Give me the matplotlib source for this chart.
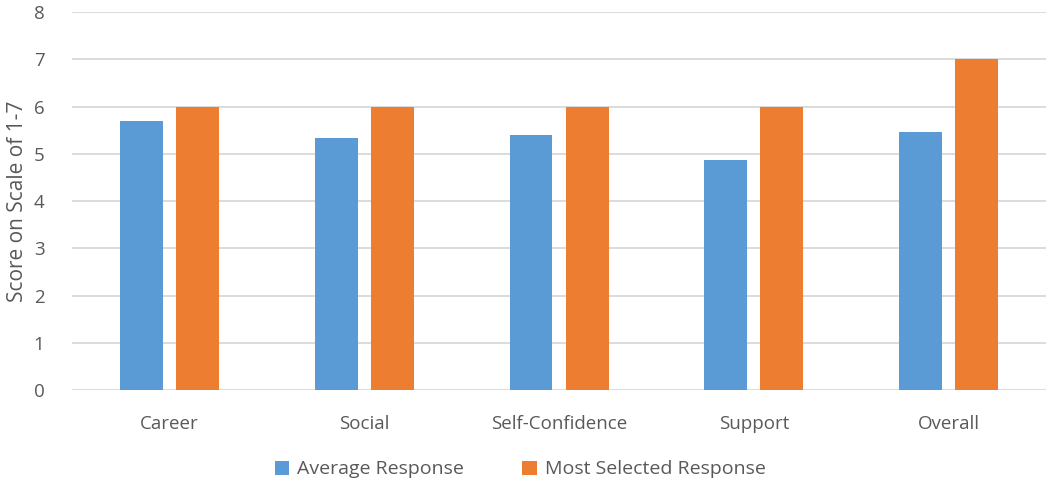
import numpy as np
import matplotlib.pyplot as plt

categories = ['Career', 'Social', 'Self-Confidence', 'Support', 'Overall']
average_response = [5.70, 5.33, 5.41, 4.88, 5.47]
most_selected = [6, 6, 6, 6, 7]

plt.rcParams['font.family'] = ['Open Sans', 'DejaVu Sans']
txt = '#595959'

fig = plt.figure(figsize=(10.46, 4.9), dpi=100)
ax = fig.add_axes([0.069, 0.204, 0.931, 0.771])

x = np.arange(len(categories))
w = 0.22
off = 0.144
ax.bar(x - off, average_response, w, color='#5B9BD5', label='Average Response', zorder=3)
ax.bar(x + off, most_selected, w, color='#ED7D31', label='Most Selected Response', zorder=3)

ax.set_xlim(-0.5, len(categories) - 0.5)
ax.set_ylim(0, 8)
ax.set_yticks(range(0, 9))
ax.set_xticks(x)
ax.set_xticklabels(categories)
ax.yaxis.grid(True, color='#d9d9d9', linewidth=1.3, zorder=0)
for s in ax.spines.values():
    s.set_visible(False)
ax.tick_params(axis='both', length=0, labelsize=13.5, colors=txt)
ax.tick_params(axis='x', pad=18)
ax.tick_params(axis='y', pad=20)
ax.set_ylabel('Score on Scale of 1-7', fontsize=15, color=txt, labelpad=4)

ax.legend(loc='upper center', bbox_to_anchor=(0.46, -0.14), ncol=2, frameon=False,
          fontsize=14, labelcolor=txt, handlelength=0.75, handleheight=0.75,
          columnspacing=3.0, handletextpad=0.4)

fig.savefig('out.png', dpi=100)
